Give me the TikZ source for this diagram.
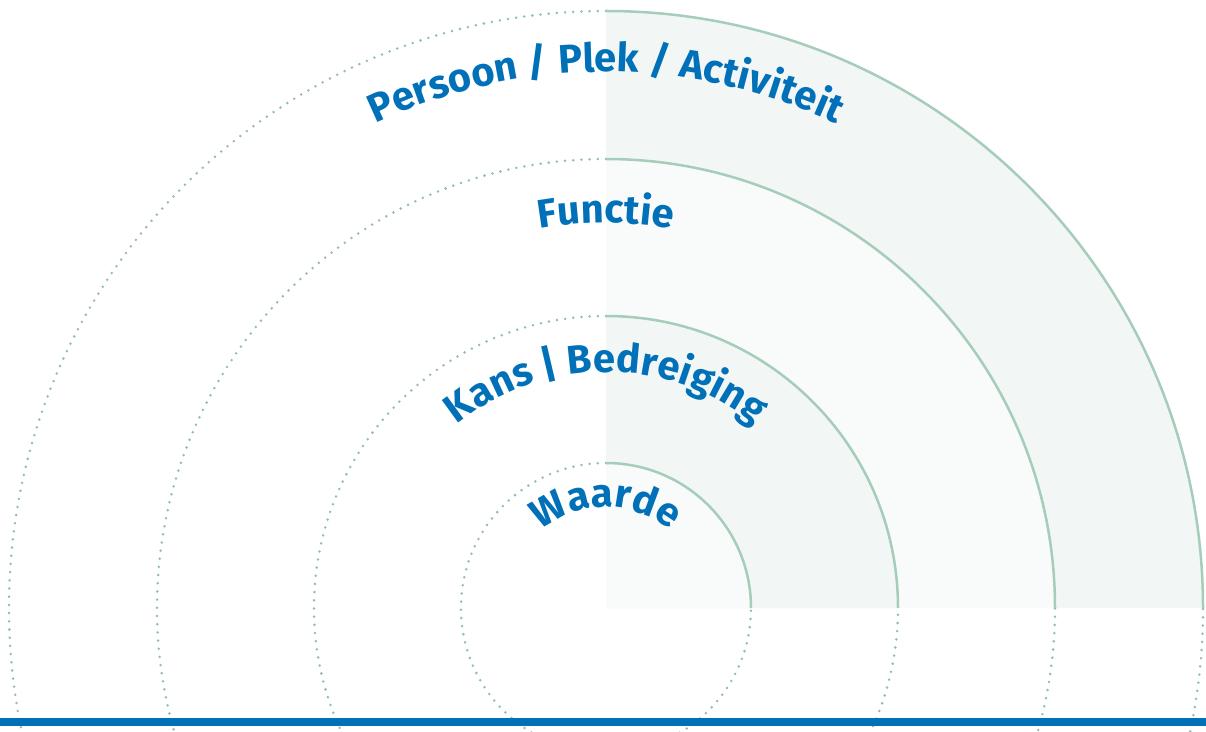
\documentclass[tikz,border=0pt]{standalone}
\usepackage{fontspec}
\setmainfont{Fira Sans}
\usetikzlibrary{decorations.text}
\definecolor{ringblue}{HTML}{0070B9}
\definecolor{ringgreen}{HTML}{A5CDB9}
\definecolor{ringdot}{HTML}{93BDB0}
\definecolor{ringdark}{HTML}{F2F7F5}
\definecolor{ringlight}{HTML}{F8FBFA}
\newcommand{\ringfont}{\fontsize{40}{40}\selectfont\bfseries}
\tikzset{
	ringarc/.style={
		draw=ringgreen,
		line width=2.5pt
	},
	ringdots/.style={
		draw=ringdot,
		line width=2.8pt,
		line cap=round,
		dash pattern=on 0pt off 8.2pt
	},
	ringlabel/.style={
		decorate,
		decoration={text along path, text align=center, text color=ringblue,
			text format delimiters={[}{]}, text={#1}}
	}
}

\begin{document}
\begin{tikzpicture}
			\useasboundingbox (-606pt,-123pt) rectangle (600pt,608pt);
			\fill [ringdark] (0,0) -- (597pt,0) arc[start angle=0, end angle=90, radius=597pt] -- cycle;
			\fill [ringlight] (0,0) -- (449pt,0) arc[start angle=0, end angle=90, radius=449pt] -- cycle;
			\fill [ringdark] (0,0) -- (292pt,0) arc[start angle=0, end angle=90, radius=292pt] -- cycle;
			\fill [ringlight] (0,0) -- (145pt,0) arc[start angle=0, end angle=90, radius=145pt] -- cycle;
			\foreach \r in {145,292,449,597} {
				\draw [ringdots] (0,\r pt) arc[start angle=90, end angle=360, radius=\r pt];
				\draw [ringarc] (\r pt,0) arc[start angle=0, end angle=90, radius=\r pt];
			}
			\path [ringlabel={[\ringfont]Persoon / Plek / Activiteit}] (-536pt,0) arc[start angle=180, end angle=0, radius=536pt];
			\path [ringlabel={[\ringfont]Functie}] (-385pt,0) arc[start angle=180, end angle=0, radius=385pt];
			\path [ringlabel={[\ringfont]Kans | Bedreiging}] (-236pt,0) arc[start angle=180, end angle=0, radius=236pt];
			\path [ringlabel={[\ringfont]Waarde}] (-101pt,0) arc[start angle=180, end angle=0, radius=101pt];
			\draw [line width=8pt, ringblue] (-606pt,-113.5pt) -- (600pt,-113.5pt);
\end{tikzpicture}
\end{document}
